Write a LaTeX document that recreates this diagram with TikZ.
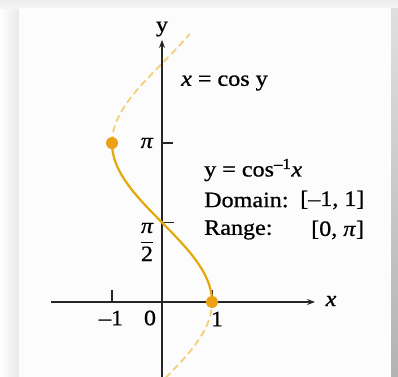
\documentclass[tikz,border=0pt]{standalone}
\usepackage{fontspec}
\setmainfont{Liberation Serif}[FakeStretch=1.1, FakeBold=0.8]
\usetikzlibrary{arrows.meta}
\definecolor{curvecol}{RGB}{228,168,10}
\definecolor{dashcol}{RGB}{242,208,120}
\definecolor{dotcol}{RGB}{236,160,20}
\tikzset{
  lbl/.style={font=\fontsize{22}{26}\selectfont, inner sep=0pt},
  axis/.style={line width=1.3pt, black!85},
  tick/.style={line width=1.1pt, black!85},
  solidcurve/.style={curvecol, line width=2.2pt},
  dashcurve/.style={dashcol, line width=1.8pt, dash pattern=on 7pt off 4pt},
  dot/.style={circle, fill=dotcol, minimum size=12pt, inner sep=0pt}
}
\begin{document}
\begin{tikzpicture}[x=1bp,y=1bp]
\useasboundingbox (-162,-75) rectangle (236,302);
% frame and shadow
\fill[white] (-162,-75) rectangle (236,302);
\shade[left color=white, right color=gray!18] (-162,-75) rectangle (-143,302);
\shade[top color=gray!14, bottom color=gray!8] (-162,294) rectangle (236,302);
\shade[top color=gray!25, bottom color=gray!60] (229,-75) rectangle (236,294);
\fill[white!98!gray] (-143,-75) rectangle (229,294);
\begin{scope}[x=50bp,y=50.6bp]
% dashed parts
\draw[dashcurve] plot[domain=-1.5:0, samples=40] ({cos(\x r)},\x);
\draw[dashcurve] plot[domain=pi:5.3, samples=60] ({cos(\x r)},\x);
% axes
\coordinate (xs) at (-2.22,0);
\coordinate (xe) at (3.06,0);
\coordinate (ys) at (0,-1.5);
\coordinate (ye) at (0,5.18);
\draw[axis,-{Stealth[length=8pt,width=6pt]}] (xs) -- (xe);
\draw[axis,-{Stealth[length=8pt,width=6pt]}] (ys) -- (ye);
% ticks
\coordinate (tm1) at (-1,0);
\coordinate (tp1) at (1,0);
\coordinate (tpi) at (0,pi);
\coordinate (tpih) at (0,pi/2);
\draw[tick] (tm1) -- ++(0,12bp);
\draw[tick] (tp1) -- ++(0,12bp);
\draw[tick] (tpi) -- ++(11bp,0);
\draw[tick] (tpih) -- ++(12bp,0);
% solid curve
\draw[solidcurve] plot[domain=0:pi, samples=80] ({cos(\x r)},\x);
\node[dot] (d1) at (-1,pi) {};
\node[dot] (d2) at (1,0) {};
\end{scope}
% labels
\node[lbl] (ylab) at (0,273) {y};
\node[lbl] (xlab) at (169,1) {\itshape x};
\node[lbl] (lm1) at (-51,-16) {–1};
\node[lbl] (l0) at (-12,-16) {0};
\node[lbl] (l1) at (55,-17) {1};
\node[lbl, anchor=east] (lpi) at (-9,159) {\itshape π};
\node[lbl] (lpih) at (-15,60) {$\displaystyle\frac{\textit{π}}{\mbox{2}}$};
\node[lbl, anchor=west] (eq1) at (19,219) {\itshape x\upshape{} = cos y};
\node[lbl, anchor=west] (eq2) at (42,132) {y = cos\textsuperscript{–1}\itshape x};
\node[lbl, anchor=west] (dom) at (42,102) {Domain:};
\node[lbl, anchor=west] (domv) at (138,102) {[–1, 1]};
\node[lbl, anchor=west] (rng) at (42,72) {Range:};
\node[lbl, anchor=west] (rngv) at (149,72) {[0, \textit{π}]};
\end{tikzpicture}
\end{document}
